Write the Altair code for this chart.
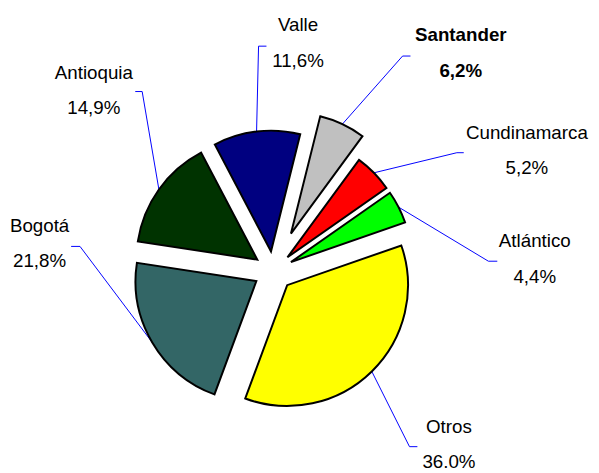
import altair as alt
import pandas as pd

# ---- data ----
cats = ["Santander", "Cundinamarca", "Atlántico", "Otros", "Bogotá", "Antioquia", "Valle"]
vals = [6.2, 5.2, 4.4, 36.0, 21.8, 14.9, 11.6]
pct_text = ["6,2%", "5,2%", "4,4%", "36.0%", "21,8%", "14,9%", "11,6%"]

# ---- style / layout ----
colors = ["#C0C0C0", "#FF0000", "#00FF00", "#FFFF00", "#336666", "#003300", "#000080"]
explode = [42, 20, 20, 20, 20, 20, 20]
# label block centre and leader elbow, relative to pie centre (px)
lab_dx = [190, 257, 265, 178, -237, -182, 25]
lab_dy = [-221, -122, -12, 176, -28, -183, -231]
elb_dx = [131, 186, 218, 138, -196, -133, -15]
elb_dy = [-218, -120, -10, 178, -25, -182, -228]
tick = [8, 7, 9, 8, -9, -7, 8]

CX, CY, R = 269, 263.5, 122.5
START = 14.0  # degrees

df = pd.DataFrame({
    "cat": cats, "value": vals, "pct": pct_text, "order": list(range(len(cats))),
    "explode": explode, "lab_dx": lab_dx, "lab_dy": lab_dy,
    "elb_dx": elb_dx, "elb_dy": elb_dy, "tick": tick,
})

base = alt.Chart(df).transform_joinaggregate(
    total="sum(value)"
).transform_window(
    cum="sum(value)", sort=[alt.SortField("order")], frame=[None, 0]
).transform_calculate(
    a0=f"{START}*PI/180 + 2*PI*(datum.cum - datum.value)/datum.total",
    a1=f"{START}*PI/180 + 2*PI*datum.cum/datum.total",
).transform_calculate(
    mid="(datum.a0 + datum.a1)/2",
).transform_calculate(
    cx=f"{CX} + datum.explode*sin(datum.mid)",
    cy=f"{CY} - datum.explode*cos(datum.mid)",
).transform_calculate(
    px=f"datum.cx + {R}*sin(datum.mid)",
    py=f"datum.cy - {R}*cos(datum.mid)",
    ex=f"{CX} + datum.elb_dx",
    ey=f"{CY} + datum.elb_dy",
    lx=f"{CX} + datum.lab_dx",
    ly1=f"{CY} + datum.lab_dy - 18",
    ly2=f"{CY} + datum.lab_dy + 18",
).transform_calculate(
    tx="datum.ex + datum.tick",
)

pie = base.mark_arc(outerRadius=R, stroke="black", strokeWidth=2).encode(
    theta=alt.Theta("a0:Q", scale=None, stack=None),
    theta2="a1:Q",
    x=alt.X("cx:Q", scale=None),
    y=alt.Y("cy:Q", scale=None),
    color=alt.Color("cat:N", scale=alt.Scale(domain=cats, range=colors), legend=None),
)

lead = base.mark_rule(color="#0000FF", strokeWidth=1).encode(
    x=alt.X("ex:Q", scale=None), y=alt.Y("ey:Q", scale=None),
    x2="px:Q", y2="py:Q",
)
tickm = base.mark_rule(color="#0000FF", strokeWidth=1).encode(
    x=alt.X("ex:Q", scale=None), y=alt.Y("ey:Q", scale=None),
    x2="tx:Q", y2="ey:Q",
)

FONT = "Liberation Sans"
FS = 19

def labels(field, yfield, bold):
    flt = "datum.cat == 'Santander'" if bold else "datum.cat != 'Santander'"
    return base.transform_filter(flt).mark_text(
        font=FONT, fontSize=FS, fontWeight="bold" if bold else "normal",
        color="black", align="center", baseline="middle",
    ).encode(
        x=alt.X("lx:Q", scale=None), y=alt.Y(f"{yfield}:Q", scale=None),
        text=f"{field}:N",
    )

chart = alt.layer(
    lead, tickm, pie,
    labels("cat", "ly1", False), labels("pct", "ly2", False),
    labels("cat", "ly1", True), labels("pct", "ly2", True),
).properties(
    width=591, height=465, autosize=alt.AutoSizeParams(type="none"), padding=0,
).configure_view(stroke=None)

chart.save("out.html", embed_options={"renderer": "svg", "actions": False})
